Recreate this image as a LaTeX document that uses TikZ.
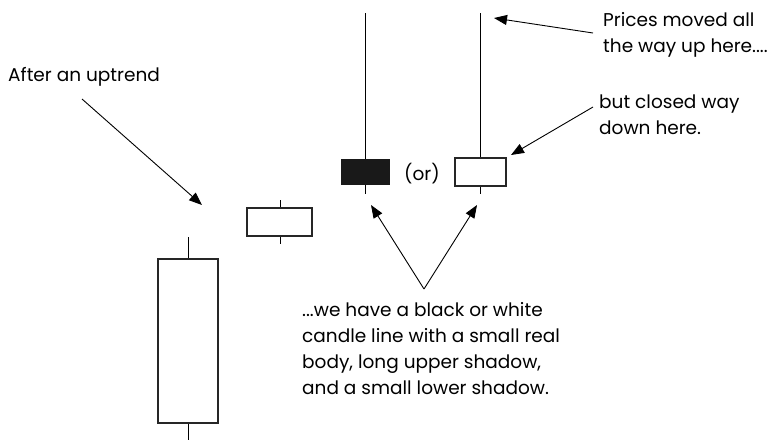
\documentclass[tikz,border=0pt]{standalone}
\usepackage{fontspec}
\setmainfont{Poppins}
\usetikzlibrary{arrows.meta}
\begin{document}
\begin{tikzpicture}[x=1pt,y=-1pt,
  wick/.style={line width=1pt,line cap=butt},
  body/.style={line width=1.2pt,draw=black!85},
  pointer/.style={line width=0.9pt,-{Triangle[length=13pt,width=10pt]}},
  lbl/.style={inner sep=0pt,font=\fontsize{18.5}{25.7}\selectfont,align=left,anchor=base west}]
\useasboundingbox (0,0) rectangle (773,440);
% big white candle
\draw[wick] (188,237) -- (188,259);
\draw[wick] (188,423) -- (188,440);
\node[body,draw,fill=white,minimum width=60pt,minimum height=164pt,inner sep=0pt] (c1) at (188,341) {};
% small white candle
\draw[wick] (280,200) -- (280,244);
\node[body,draw,fill=white,minimum width=65pt,minimum height=28pt,inner sep=0pt] (c2) at (279.5,222) {};
% black candle
\draw[wick] (365,13) -- (365,194);
\node[fill=black!90,minimum width=49pt,minimum height=26pt,inner sep=0pt] (c3) at (365.5,172) {};
% white candle right
\draw[wick] (480,13) -- (480,194);
\node[body,draw,fill=white,minimum width=51pt,minimum height=28pt,inner sep=0pt] (c4) at (480.5,172) {};
\node[lbl,anchor=base] (or) at (422,180) {(or)};
% labels (anchored at the baseline of the last line)
\node[lbl] (t1) at (8,81) {After an uptrend};
\node[lbl] (t2) at (603,52) {Prices moved all\\the way up here....};
\node[lbl] (t3) at (599,134) {but closed way\\down here.};
\node[lbl] (t4) at (302,394) {...we have a black or white\\candle line with a small real\\body, long upper shadow,\\and a small lower shadow.};
% arrows
\coordinate (a1s) at (82,99);
\coordinate (a1e) at (202,205);
\draw[pointer] (a1s) -- (a1e);
\coordinate (a2s) at (593,33);
\coordinate (a2e) at (494,18);
\draw[pointer] (a2s) -- (a2e);
\coordinate (a3s) at (593,107);
\coordinate (a3e) at (511,155);
\draw[pointer] (a3s) -- (a3e);
\coordinate (apex) at (424,289);
\coordinate (a4e) at (371,205);
\coordinate (a5e) at (477,205);
\draw[pointer] (apex) -- (a4e);
\draw[pointer] (apex) -- (a5e);
\end{tikzpicture}
\end{document}
